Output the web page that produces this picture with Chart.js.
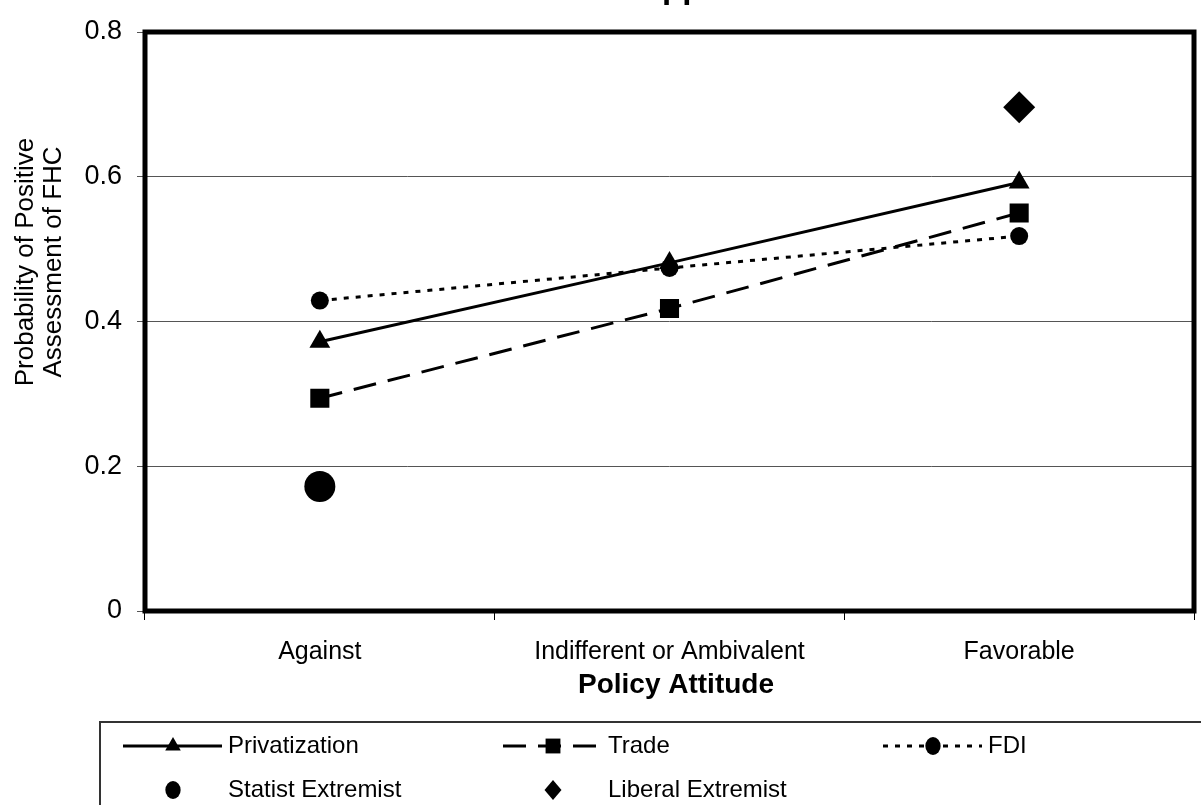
<!DOCTYPE html>
<html><head><meta charset="utf-8">
<script src="https://cdn.jsdelivr.net/npm/chart.js@4.4.1/dist/chart.umd.min.js"></script>
<style>html,body{margin:0;padding:0;background:#fff;}#wrap{position:relative;width:1201px;height:805px;}canvas{display:block;}</style>
</head><body><div id="wrap"><canvas id="c" width="1201" height="805"></canvas></div>
<script>
const categories = ['Against', 'Indifferent or Ambivalent', 'Favorable'];
const privatization = [0.372, 0.481, 0.592];
const trade = [0.294, 0.418, 0.550];
const fdi = [0.429, 0.474, 0.518];
const statistExtremist = [0.172, null, null];
const liberalExtremist = [null, null, 0.696];
const yTickValues = [0, 0.2, 0.4, 0.6, 0.8];
const yTickLabels = ['0', '0.2', '0.4', '0.6', '0.8'];
const seriesNames = ['Privatization', 'Trade', 'FDI', 'Statist Extremist', 'Liberal Extremist'];
const chartTitle = 'Support';
const xAxisTitle = 'Policy Attitude';
const yAxisTitle = ['Probability of Positive', 'Assessment of FHC'];

const FONT = "'Liberation Sans', Arial, sans-serif";

function marker(ctx, style, x, y, r) {
  ctx.save();
  ctx.fillStyle = '#000';
  ctx.beginPath();
  if (style === 'triangle') {
    ctx.moveTo(x, y - r);
    ctx.lineTo(x + r * 0.866, y + r * 0.5);
    ctx.lineTo(x - r * 0.866, y + r * 0.5);
    ctx.closePath();
  } else if (style === 'rect') {
    const s = r * Math.SQRT1_2;
    ctx.rect(x - s, y - s, 2 * s, 2 * s);
  } else if (style === 'rectRot') {
    ctx.moveTo(x - r * 0.85, y);
    ctx.lineTo(x, y - r);
    ctx.lineTo(x + r * 0.85, y);
    ctx.lineTo(x, y + r);
    ctx.closePath();
  } else {
    ctx.ellipse(x, y, r * 0.85, r, 0, 0, Math.PI * 2);
  }
  ctx.fill();
  ctx.restore();
}

const decor = {
  id: 'decor',
  beforeDatasetsDraw(chart) {
    const ctx = chart.ctx, a = chart.chartArea;
    ctx.save();
    ctx.strokeStyle = '#000';
    ctx.lineWidth = 5;
    ctx.strokeRect(a.left, a.top, a.right - a.left, a.bottom - a.top);
    ctx.restore();
  },
  afterDraw(chart) {
    const ctx = chart.ctx, a = chart.chartArea;
    ctx.save();
    ctx.fillStyle = '#000';
    // clipped chart title
    ctx.font = 'bold 33px ' + FONT;
    ctx.textBaseline = 'alphabetic';
    ctx.textAlign = 'left';
    const su = ctx.measureText('Su').width;
    ctx.fillText(chartTitle, 662 - su, -2);
    // y axis title
    ctx.font = '26px ' + FONT;
    ctx.textAlign = 'center';
    ctx.textBaseline = 'middle';
    ctx.save();
    ctx.translate(26, 262);
    ctx.rotate(-Math.PI / 2);
    ctx.fillText(yAxisTitle[0], 0, 0);
    ctx.fillText(yAxisTitle[1], 0, 28);
    ctx.restore();
    // x axis title
    ctx.font = 'bold 28px ' + FONT;
    ctx.fillText(xAxisTitle, 676, 685);
    // legend box
    ctx.strokeStyle = '#333';
    ctx.lineWidth = 2;
    ctx.strokeRect(100, 722, 1200, 200);
    // legend items
    const ds = chart.data.datasets;
    const rows = [746, 790];
    ds.forEach((d, i) => {
      const col = i % 3, row = Math.floor(i / 3);
      const x0 = 123 + col * 380, y = rows[row];
      if (d.showLine !== false) {
        ctx.save();
        ctx.strokeStyle = '#000';
        ctx.lineWidth = d.borderWidth;
        ctx.setLineDash(d.borderDash || []);
        ctx.beginPath();
        ctx.moveTo(x0, y);
        ctx.lineTo(x0 + 99, y);
        ctx.stroke();
        ctx.restore();
      }
      marker(ctx, d.pointStyle, x0 + 50, y, d.legendRadius);
      ctx.font = '24px ' + FONT;
      ctx.textAlign = 'left';
      ctx.textBaseline = 'middle';
      ctx.fillStyle = '#000';
      ctx.fillText(d.label, x0 + 105, y);
    });
    ctx.restore();
  }
};

new Chart(document.getElementById('c'), {
  type: 'line',
  data: {
    labels: categories,
    datasets: [
      { label: seriesNames[0], data: privatization, borderColor: '#000', borderWidth: 3, pointStyle: 'triangle', pointRadius: 12, pointBackgroundColor: '#000', pointBorderColor: '#000', pointBorderWidth: 0, legendRadius: 9 },
      { label: seriesNames[1], data: trade, borderColor: '#000', borderWidth: 3, borderDash: [23, 12], pointStyle: 'rect', pointRadius: 13.5, pointBackgroundColor: '#000', pointBorderColor: '#000', pointBorderWidth: 0, legendRadius: 10.5 },
      { label: seriesNames[2], data: fdi, borderColor: '#000', borderWidth: 3, borderDash: [5, 7], pointStyle: 'circle', pointRadius: 9, pointBackgroundColor: '#000', pointBorderColor: '#000', pointBorderWidth: 0, legendRadius: 9 },
      { label: seriesNames[3], data: statistExtremist, showLine: false, pointStyle: 'circle', pointRadius: 15.5, pointBackgroundColor: '#000', pointBorderColor: '#000', pointBorderWidth: 0, legendRadius: 9 },
      { label: seriesNames[4], data: liberalExtremist, showLine: false, pointStyle: 'rectRot', pointRadius: 16, pointBackgroundColor: '#000', pointBorderColor: '#000', pointBorderWidth: 0, legendRadius: 10 }
    ]
  },
  options: {
    responsive: false,
    animation: false,
    devicePixelRatio: 1,
    layout: { autoPadding: false, padding: { top: 32, left: 0, right: 7, bottom: 0 } },
    plugins: { legend: { display: false }, title: { display: false }, tooltip: { enabled: false } },
    scales: {
      x: {
        offset: true,
        grid: { offset: true, drawOnChartArea: false, drawTicks: true, tickLength: 9, color: '#000', lineWidth: 1 },
        border: { display: false },
        ticks: { color: '#000', font: { family: FONT, size: 25 }, padding: 17, maxRotation: 0 },
        afterFit(s) { s.height = 194; s.paddingLeft = 0; s.paddingRight = 0; }
      },
      y: {
        min: 0, max: 0.8,
        afterBuildTicks(s) { s.ticks = yTickValues.map(v => ({ value: v })); },
        grid: { color: '#555', lineWidth: 1, tickLength: 8, drawTicks: true },
        border: { display: false },
        ticks: { color: '#000', font: { family: FONT, size: 27 }, padding: 15,
          callback(v) { const i = yTickValues.indexOf(v); return i >= 0 ? yTickLabels[i] : ''; } },
        afterFit(s) { s.width = 145; }
      }
    }
  },
  plugins: [decor]
});
</script>
</body></html>
